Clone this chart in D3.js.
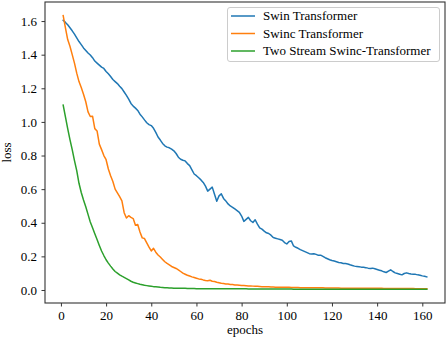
<!DOCTYPE html>
<html><head><meta charset="utf-8">
<script src="https://cdn.jsdelivr.net/npm/d3@7"></script>
<style>
html,body{margin:0;padding:0;background:#fff;}
svg{display:block;}
svg text{font-family:"Liberation Serif","Times New Roman",serif !important;}
</style></head>
<body>
<svg id="chart" width="448" height="337"></svg>
<script>
const seriesNames = ["Swin Transformer", "Swinc Transformer", "Two Stream Swinc-Transformer"];
const seriesColors = ["#1f77b4", "#ff7f0e", "#2ca02c"];
const xTicks = [0, 20, 40, 60, 80, 100, 120, 140, 160];
const yTicks = [0.0, 0.2, 0.4, 0.6, 0.8, 1.0, 1.2, 1.4, 1.6];

const swin = [
1.605,1.592,1.578,1.560,1.542,1.522,1.500,1.478,1.460,1.440,
1.425,1.410,1.398,1.382,1.362,1.350,1.338,1.326,1.318,1.300,
1.286,1.270,1.252,1.240,1.228,1.212,1.198,1.178,1.158,1.136,
1.110,1.094,1.082,1.068,1.046,1.030,1.012,0.995,0.984,0.978,
0.962,0.938,0.910,0.892,0.872,0.858,0.850,0.846,0.838,0.828,
0.812,0.790,0.778,0.772,0.768,0.752,0.740,0.715,0.690,0.680,
0.668,0.655,0.640,0.618,0.588,0.600,0.612,0.570,0.528,0.560,
0.572,0.545,0.530,0.512,0.500,0.492,0.482,0.472,0.462,0.440,
0.408,0.420,0.432,0.412,0.402,0.418,0.392,0.370,0.362,0.350,
0.340,0.336,0.326,0.312,0.308,0.304,0.300,0.296,0.282,0.274,
0.288,0.292,0.262,0.254,0.248,0.240,0.234,0.228,0.222,0.216,
0.214,0.216,0.212,0.206,0.207,0.200,0.192,0.186,0.180,0.175,
0.172,0.168,0.164,0.162,0.158,0.158,0.155,0.150,0.146,0.142,
0.140,0.138,0.136,0.135,0.133,0.130,0.128,0.130,0.126,0.122,
0.118,0.114,0.108,0.104,0.112,0.120,0.110,0.102,0.098,0.094,
0.090,0.098,0.102,0.098,0.095,0.094,0.093,0.090,0.088,0.084,
0.082,0.078];

const swinc = [
1.632,1.560,1.490,1.450,1.400,1.350,1.290,1.240,1.205,1.165,
1.120,1.060,1.032,1.034,0.960,0.946,0.868,0.835,0.800,0.775,
0.720,0.680,0.645,0.600,0.578,0.555,0.530,0.460,0.428,0.442,
0.432,0.425,0.385,0.390,0.345,0.310,0.306,0.280,0.255,0.232,
0.248,0.225,0.208,0.196,0.182,0.168,0.158,0.150,0.140,0.134,
0.128,0.120,0.110,0.100,0.094,0.088,0.083,0.078,0.074,0.070,
0.066,0.064,0.060,0.057,0.055,0.058,0.052,0.050,0.046,0.043,
0.040,0.038,0.036,0.035,0.033,0.032,0.030,0.029,0.028,0.027,
0.026,0.025,0.024,0.024,0.023,0.022,0.022,0.021,0.020,0.020,
0.019,0.019,0.018,0.018,0.017,0.017,0.017,0.016,0.016,0.016,
0.016,0.015,0.015,0.015,0.015,0.014,0.014,0.014,0.014,0.014,
0.013,0.013,0.013,0.013,0.013,0.013,0.012,0.012,0.012,0.012,
0.012,0.012,0.012,0.011,0.011,0.011,0.011,0.011,0.011,0.011,
0.011,0.010,0.010,0.010,0.010,0.010,0.010,0.010,0.010,0.010,
0.010,0.010,0.009,0.009,0.009,0.009,0.009,0.009,0.009,0.009,
0.009,0.009,0.009,0.009,0.009,0.009,0.008,0.008,0.008,0.008,
0.008,0.008];

const twoStream = [
1.100,1.030,0.960,0.895,0.835,0.770,0.710,0.635,0.580,0.535,
0.495,0.450,0.405,0.370,0.335,0.300,0.265,0.232,0.205,0.180,
0.160,0.142,0.125,0.110,0.100,0.090,0.082,0.075,0.068,0.060,
0.052,0.046,0.042,0.038,0.034,0.031,0.028,0.026,0.024,0.022,
0.020,0.019,0.018,0.016,0.015,0.014,0.013,0.012,0.012,0.011,
0.011,0.010,0.010,0.010,0.010,0.009,0.009,0.009,0.009,0.008,
0.008,0.008,0.008,0.008,0.008,0.008,0.008,0.008,0.008,0.008,
0.008,0.008,0.007,0.007,0.007,0.007,0.007,0.007,0.007,0.007,
0.007,0.007,0.006,0.006,0.006,0.006,0.006,0.006,0.006,0.006,
0.006,0.006,0.006,0.006,0.006,0.006,0.006,0.006,0.006,0.006,
0.006,0.006,0.005,0.005,0.005,0.005,0.005,0.005,0.005,0.005,
0.005,0.005,0.005,0.005,0.005,0.005,0.005,0.005,0.005,0.005,
0.005,0.005,0.005,0.005,0.005,0.005,0.005,0.005,0.005,0.005,
0.005,0.005,0.005,0.005,0.005,0.005,0.005,0.004,0.004,0.004,
0.004,0.004,0.004,0.004,0.004,0.004,0.004,0.004,0.004,0.004,
0.004,0.004,0.004,0.004,0.004,0.004,0.004,0.004,0.004,0.004,
0.004,0.004];

const allSeries = [swin, swinc, twoStream];
const FONT = '"Liberation Serif","Times New Roman",serif';

const svg = d3.select("#chart");
const L = 45, R = 445, T = 2, B = 303;

const n = swin.length;
const xMin = 1, xMax = n;
const xPad = (xMax - xMin) * 0.05;
const x = d3.scaleLinear().domain([xMin - xPad, xMax + xPad]).range([L, R]);

const allVals = allSeries.flat();
const yMin = d3.min(allVals), yMax = d3.max(allVals);
const yPad = (yMax - yMin) * 0.05;
const y = d3.scaleLinear().domain([yMin - yPad, yMax + yPad]).range([B, T]);

const line = d3.line().x((d, i) => x(i + 1)).y(d => y(d));

svg.append("g").selectAll("path").data(allSeries).join("path")
  .attr("d", d => line(d))
  .attr("fill", "none")
  .attr("stroke", (d, i) => seriesColors[i])
  .attr("stroke-width", 1.5)
  .attr("stroke-linejoin", "round")
  .attr("stroke-linecap", "square");

// axes
const xAxis = svg.append("g").attr("transform", `translate(0,${B})`)
  .call(d3.axisBottom(x).tickValues(xTicks).tickFormat(d3.format("d")).tickSize(3.5).tickSizeOuter(0));
const yAxis = svg.append("g").attr("transform", `translate(${L},0)`)
  .call(d3.axisLeft(y).tickValues(yTicks).tickFormat(d3.format(".1f")).tickSize(3.5).tickSizeOuter(0));
[xAxis, yAxis].forEach(g => {
  g.attr("font-family", FONT).attr("font-size", 13);
  g.select(".domain").remove();
  g.selectAll(".tick line").attr("stroke", "#000").attr("stroke-width", 0.8);
  g.selectAll(".tick text").attr("fill", "#000").attr("font-family", FONT).attr("font-size", 13);
});
xAxis.selectAll(".tick text").attr("dy", "0.71em").attr("y", 8);
yAxis.selectAll(".tick text").attr("x", -8);

// frame
svg.append("rect").attr("x", L).attr("y", T).attr("width", R - L).attr("height", B - T)
  .attr("fill", "none").attr("stroke", "#333").attr("stroke-width", 1.1);

// axis labels
svg.append("text").attr("x", (L + R) / 2).attr("y", 334).attr("text-anchor", "middle")
  .attr("font-family", FONT).attr("font-size", 13).text("epochs");
svg.append("text").attr("transform", `translate(11,${(T + B) / 2}) rotate(-90)`)
  .attr("text-anchor", "middle").attr("font-family", FONT).attr("font-size", 13).text("loss");

// legend
const lg = svg.append("g");
lg.append("rect").attr("x", 227.5).attr("y", 7.5).attr("width", 212).attr("height", 54)
  .attr("rx", 2.5).attr("fill", "#fff").attr("fill-opacity", 0.8)
  .attr("stroke", "#ccc").attr("stroke-width", 1);
const rows = lg.selectAll("g.row").data(seriesNames).join("g").attr("class", "row")
  .attr("transform", (d, i) => `translate(0,${16 + i * 17.5})`);
rows.append("line").attr("x1", 231).attr("x2", 255).attr("y1", 0).attr("y2", 0)
  .attr("stroke", (d, i) => seriesColors[i]).attr("stroke-width", 1.5);
rows.append("text").attr("x", 263).attr("y", 0).attr("dy", "0.33em")
  .attr("font-family", FONT).attr("font-size", 13).attr("fill", "#000").text(d => d);
</script>
</body></html>
